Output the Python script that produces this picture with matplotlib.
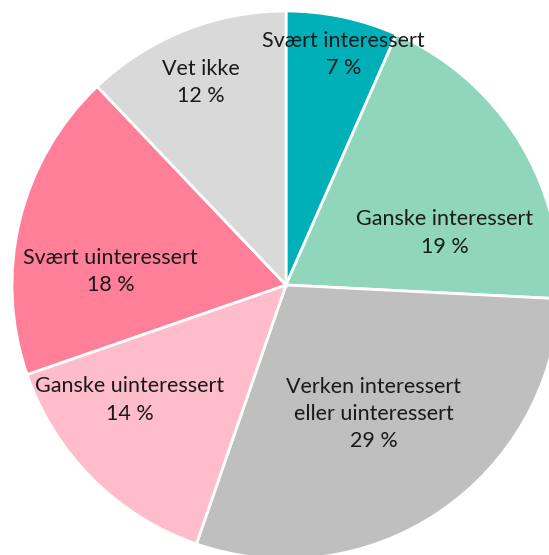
import matplotlib
matplotlib.use("Agg")
import matplotlib.pyplot as plt

categories = ["Svært interessert", "Ganske interessert", "Verken interessert\neller uinteressert",
              "Ganske uinteressert", "Svært uinteressert", "Vet ikke"]
values = [6.6, 19.2, 29.5, 14.4, 18.2, 12.1]
pct_labels = ["7 %", "19 %", "29 %", "14 %", "18 %", "12 %"]

colors = ["#00B0B9", "#8FD6BD", "#BFBFBF", "#FFBDCB", "#FF7F99", "#D9D9D9"]
# label centres (data units, pie radius = 1)
label_pos = [(0.21, 0.84), (0.58, 0.19), (0.32, -0.47), (-0.57, -0.42), (-0.64, 0.05), (-0.31, 0.74)]

W, H = 549, 555
fig = plt.figure(figsize=(W / 100, H / 100), dpi=100)
ax = fig.add_axes([0, 0, 1, 1])
R = 274.0
cx, cy = 286.0, 285.0
ax.pie(values, colors=colors, startangle=90, counterclock=False, radius=1,
       wedgeprops=dict(edgecolor="white", linewidth=2))
ax.set_aspect("auto")
ax.set_xlim(-cx / R, (W - cx) / R)
ax.set_ylim(-(H - cy) / R, cy / R)
ax.axis("off")

for cat, pct, (x, y) in zip(categories, pct_labels, label_pos):
    ax.text(x, y, cat + "\n" + pct, ha="center", va="center", fontsize=15.5,
            family="Lato", color="#1a1a1a", linespacing=1.45)

fig.savefig("out.png", dpi=100)
